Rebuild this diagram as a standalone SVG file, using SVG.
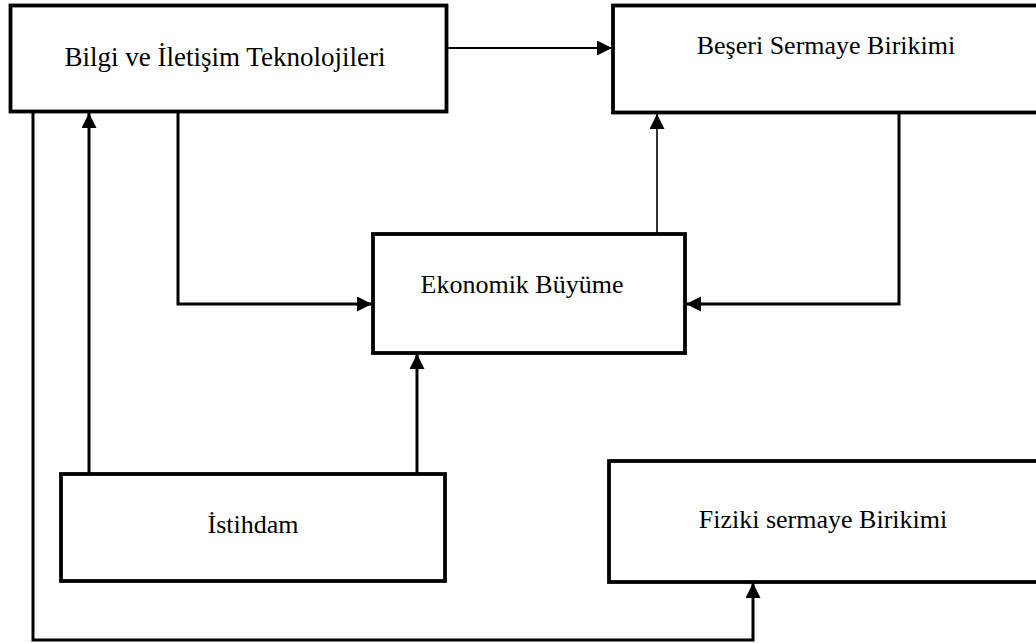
<svg xmlns="http://www.w3.org/2000/svg" width="1036" height="643" viewBox="0 0 1036 643">
  <style>
    .box { fill: #ffffff; stroke: #000000; stroke-width: 3.8; }
    .lbl { font-family: "Liberation Serif", "Times New Roman", serif; font-size: 26px; fill: #000000; text-anchor: middle; }
    .wire { fill: none; stroke: #000000; stroke-width: 3; }
    .thin { stroke-width: 1.6; }
    .mid { stroke-width: 2.2; }
  </style>
  <defs>
    <marker id="head" markerUnits="userSpaceOnUse" markerWidth="16" markerHeight="16" refX="15" refY="7.5" orient="auto">
      <path d="M0,0 L15,7.5 L0,15 Z" fill="#000000"/>
    </marker>
  </defs>
  <rect width="1036" height="643" fill="#ffffff"/>

  <g id="connectors">
    <!-- ICT to human capital -->
    <line class="wire mid" x1="447" y1="48" x2="612" y2="48" marker-end="url(#head)"/>
    <!-- ICT to growth -->
    <polyline class="wire" points="178,113 178,304 372,304" marker-end="url(#head)"/>
    <!-- human capital to growth -->
    <polyline class="wire" points="899,113 899,304 686,304" marker-end="url(#head)"/>
    <!-- growth to human capital -->
    <line class="wire thin" x1="657" y1="233" x2="657" y2="114" marker-end="url(#head)"/>
    <!-- employment to growth -->
    <line class="wire" x1="417" y1="474" x2="417" y2="354" marker-end="url(#head)"/>
    <!-- employment to ICT -->
    <line class="wire" x1="89" y1="474" x2="89" y2="113" marker-end="url(#head)"/>
    <!-- ICT to physical capital -->
    <polyline class="wire" points="33,113 33,640 753,640 753,583" marker-end="url(#head)"/>
  </g>

  <g id="ict">
    <rect class="box" x="10.5" y="5.5" width="436" height="106"/>
    <text class="lbl" x="225" y="66" style="font-size:27px">Bilgi ve İletişim Teknolojileri</text>
  </g>
  <g id="human-capital">
    <rect class="box" x="613" y="5.5" width="450" height="107"/>
    <text class="lbl" x="826" y="54">Beşeri Sermaye Birikimi</text>
  </g>
  <g id="growth">
    <rect class="box" x="373" y="234" width="312" height="119"/>
    <text class="lbl" x="522" y="293">Ekonomik Büyüme</text>
  </g>
  <g id="employment">
    <rect class="box" x="61" y="474" width="384" height="107"/>
    <text class="lbl" x="253" y="533">İstihdam</text>
  </g>
  <g id="physical-capital">
    <rect class="box" x="609" y="461" width="450" height="121"/>
    <text class="lbl" x="823" y="528">Fiziki sermaye Birikimi</text>
  </g>
</svg>
